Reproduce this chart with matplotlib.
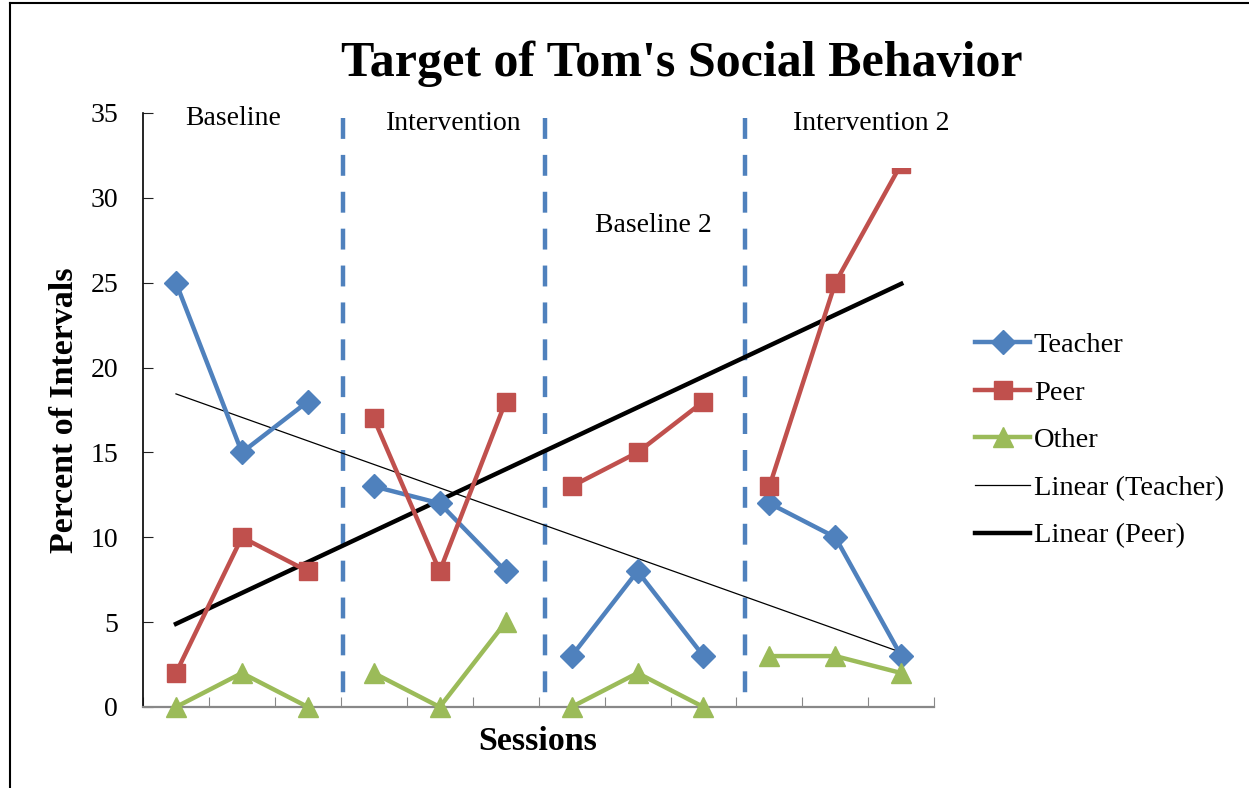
import matplotlib.pyplot as plt
import numpy as np
from matplotlib.lines import Line2D
from matplotlib.patches import Rectangle

plt.rcParams["font.family"] = ["Liberation Serif", "DejaVu Serif"]

sessions = np.arange(1, 13)
teacher = [25, 15, 18, 13, 12, 8, 3, 8, 3, 12, 10, 3]
peer = [2, 10, 8, 17, 8, 18, 13, 15, 18, 13, 25, 32]
other = [0, 2, 0, 2, 0, 5, 0, 2, 0, 3, 3, 2]
phase_names = ["Baseline", "Intervention", "Baseline 2", "Intervention 2"]
phase_breaks = [3.53, 6.6, 9.63]
yticks = [0, 5, 10, 15, 20, 25, 30, 35]

BLUE = "#4F81BD"
RED = "#C0504D"
GREEN = "#9BBB59"
LW = 3.2

fig = plt.figure(figsize=(12.49, 7.88), dpi=100)
ax = fig.add_axes([0.1145, 0.1028, 0.6335, 0.7538])

# frame of the original document
fig.add_artist(Line2D([0.008, 0.008], [0, 0.996], color="black", lw=1.5))
fig.add_artist(Line2D([0.008, 1.0], [0.996, 0.996], color="black", lw=1.5))

# the top peer marker is cut off in the original
clip = Rectangle((0, -2), 13, 33.75, transform=ax.transData, visible=False)
ax.add_patch(clip)

segments = [(0, 3), (3, 6), (6, 9), (9, 12)]
for a, b in segments:
    xs = sessions[a:b]
    ax.plot(xs, teacher[a:b], color=BLUE, lw=LW, marker="D", ms=12,
            zorder=4, clip_on=False)
    ln, = ax.plot(xs, peer[a:b], color=RED, lw=LW, marker="s", ms=12.5,
                  zorder=4)
    ln.set_clip_path(clip)
    ax.plot(xs, other[a:b], color=GREEN, lw=LW, marker="^", ms=15,
            zorder=4, clip_on=False)

# linear trendlines across all sessions
pt = np.polyfit(sessions, teacher, 1)
pp = np.polyfit(sessions, peer, 1)
ends = np.array([1, 12])
ax.plot(ends, np.polyval(pt, ends), color="black", lw=0.9, zorder=3)
ax.plot(ends, np.polyval(pp, ends), color="black", lw=LW, zorder=3)

# phase change lines, dash pattern starting from the top
for xb in phase_breaks:
    ax.plot([xb, xb], [34.7, 0.4], color=BLUE, lw=3.2,
            dashes=(4.7, 3.6), zorder=2, clip_on=False)

ax.text(1.86, 34.7, phase_names[0], fontsize=20, ha="center", va="center")
ax.text(5.21, 34.4, phase_names[1], fontsize=20, ha="center", va="center")
ax.text(8.24, 28.35, phase_names[2], fontsize=20, ha="center", va="center")
ax.text(11.55, 34.4, phase_names[3], fontsize=20, ha="center", va="center",
        clip_on=False)

ax.set_xlim(0.5, 12.5)
ax.set_ylim(0, 35)
ax.set_yticks(yticks)
ax.set_xticks(np.arange(0.5, 13, 1))
ax.set_xticklabels([])
ax.tick_params(axis="y", direction="in", length=7, labelsize=20, pad=18,
               color="#222222")
ax.tick_params(axis="x", direction="in", length=7, color="#888888")
for s in ["top", "right"]:
    ax.spines[s].set_visible(False)
ax.spines["left"].set_color("black")
ax.spines["left"].set_linewidth(1.2)
ax.spines["bottom"].set_color("#888888")
ax.spines["bottom"].set_linewidth(1.6)

fig.text(65 / 1249, 1 - 410 / 788, "Percent of Intervals", fontsize=24.5,
         fontweight="bold", rotation=90, ha="center", va="center")
fig.text(538 / 1249, 1 - 741 / 788, "Sessions", fontsize=24.5,
         fontweight="bold", ha="center", va="center")
fig.text(0.546, 0.919, "Target of Tom's Social Behavior", fontsize=36,
         fontweight="bold", ha="center", va="center")

handles = [
    Line2D([], [], color=BLUE, lw=LW, marker="D", ms=12),
    Line2D([], [], color=RED, lw=LW, marker="s", ms=12.5),
    Line2D([], [], color=GREEN, lw=LW, marker="^", ms=15),
    Line2D([], [], color="black", lw=0.9),
    Line2D([], [], color="black", lw=LW),
]
labels = ["Teacher", "Peer", "Other", "Linear (Teacher)", "Linear (Peer)"]
fig.legend(handles, labels, loc="center left", bbox_to_anchor=(0.7806, 0.441),
           frameon=False, fontsize=20.5, handlelength=1.95, handletextpad=0.12,
           labelspacing=0.76, borderaxespad=0, borderpad=0)

fig.savefig("out.png", dpi=100)
